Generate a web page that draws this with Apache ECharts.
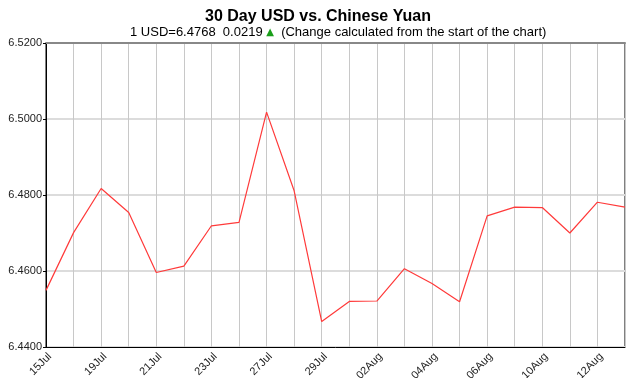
<!DOCTYPE html>
<html><head><meta charset="utf-8">
<script src="https://cdn.jsdelivr.net/npm/echarts@6/dist/echarts.min.js"></script>
<style>html,body{margin:0;padding:0;background:#fff}#c{width:636px;height:378px}</style>
</head><body><div id="c"></div>
<script>
var categories = ['15Jul','16Jul','19Jul','20Jul','21Jul','22Jul','23Jul','26Jul','27Jul','28Jul','29Jul','30Jul','02Aug','03Aug','04Aug','05Aug','06Aug','09Aug','10Aug','11Aug','12Aug','13Aug'];
var rates = [6.4549,6.4701,6.4817,6.4754,6.4596,6.4613,6.4719,6.4728,6.5018,6.4811,6.4467,6.4520,6.4521,6.4606,6.4567,6.4519,6.4745,6.4768,6.4767,6.4700,6.4781,6.4768];
var titleText = '30 Day USD vs. Chinese Yuan';
var lastRate = '6.4768', change = '0.0219';

var chart = echarts.init(document.getElementById('c'), null, {renderer:'canvas'});
chart.setOption({
  animation:false,
  backgroundColor:'#fff',
  title:[{
    text:titleText, left:'center', top:4,
    textStyle:{fontFamily:'Liberation Sans, Arial', fontSize:16, fontWeight:'bold', color:'#000'}
  },{
    text:'{a|1 USD=' + lastRate + '  ' + change + ' }{t|▲}{a|  (Change calculated from the start of the chart)}',
    left:125, top:21,
    textStyle:{fontWeight:'normal', rich:{
      a:{fontFamily:'Liberation Sans, Arial', fontSize:13, fontWeight:'normal', color:'#000'},
      t:{fontFamily:'DejaVu Sans', fontSize:10, fontWeight:'normal', color:'#1a9e1a'}
    }}
  }],
  grid:{left:46, right:11, top:43, bottom:31, show:true, borderColor:'#000', borderWidth:1,
        containLabel:false, outerBoundsMode:'none'},
  xAxis:[{
    type:'category', data:categories, boundaryGap:false,
    axisLine:{lineStyle:{color:'#000'}},
    axisTick:{show:false},
    axisLabel:{interval:1, rotate:45, verticalAlign:'top', fontFamily:'Liberation Sans, Arial', fontSize:11, color:'#222', margin:4},
    splitLine:{show:true, interval:0, lineStyle:{color:'#c8c8c8', width:1}}
  },{
    type:'category', data:categories, boundaryGap:false, position:'top',
    axisLine:{show:true, lineStyle:{color:'#888', width:2}},
    axisTick:{show:false}, axisLabel:{show:false}, splitLine:{show:false}
  }],
  yAxis:{
    type:'value', min:6.44, max:6.52, interval:0.02,
    axisLine:{show:true, lineStyle:{color:'#000'}},
    axisTick:{show:true, length:3, lineStyle:{color:'#000'}},
    axisLabel:{formatter:function(v){return v.toFixed(4);}, fontFamily:'Liberation Sans, Arial', fontSize:11, color:'#222', margin:4},
    splitLine:{show:true, lineStyle:{color:'#dcdcdc', width:2}}
  },
  series:[{
    type:'line', data:rates, showSymbol:false, symbol:'none',
    lineStyle:{color:'#ff3a3a', width:1.2}
  }]
});
</script></body></html>
